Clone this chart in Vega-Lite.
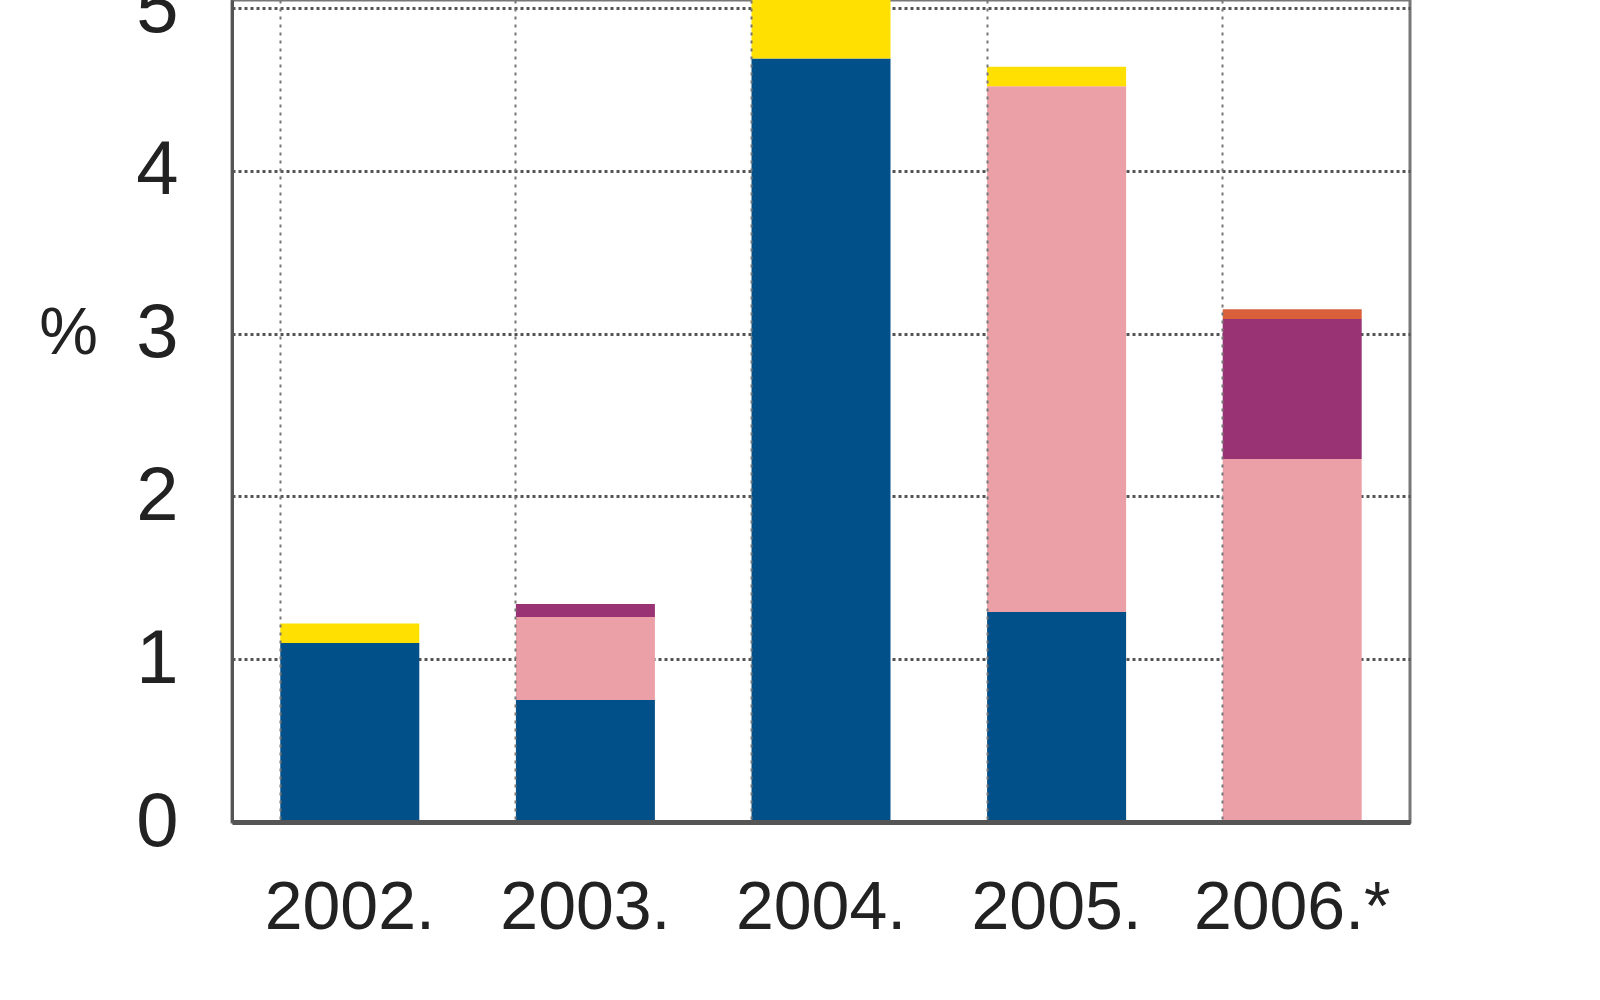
{
  "$schema": "https://vega.github.io/schema/vega-lite/v6.json",
  "autosize": {"type": "none"},
  "width": 1178,
  "height": 822,
  "padding": {"left": 232, "top": 0, "right": 190, "bottom": 178},
  "background": "white",
  "data": {
    "values": [
      {"year": "2002.", "series": "A", "order": 1, "value": 1.10},
      {"year": "2002.", "series": "D", "order": 4, "value": 0.12},
      {"year": "2003.", "series": "A", "order": 1, "value": 0.75},
      {"year": "2003.", "series": "B", "order": 2, "value": 0.51},
      {"year": "2003.", "series": "C", "order": 3, "value": 0.08},
      {"year": "2004.", "series": "A", "order": 1, "value": 4.69},
      {"year": "2004.", "series": "D", "order": 4, "value": 0.9},
      {"year": "2005.", "series": "A", "order": 1, "value": 1.29},
      {"year": "2005.", "series": "B", "order": 2, "value": 3.23},
      {"year": "2005.", "series": "D", "order": 4, "value": 0.12},
      {"year": "2006.*", "series": "B", "order": 2, "value": 2.23},
      {"year": "2006.*", "series": "C", "order": 3, "value": 0.86},
      {"year": "2006.*", "series": "E", "order": 5, "value": 0.06}
    ]
  },
  "mark": {"type": "bar", "clip": true},
  "encoding": {
    "x": {
      "field": "year",
      "type": "nominal",
      "sort": null,
      "scale": {"paddingInner": 0.41, "paddingOuter": 0.205},
      "axis": {
        "title": null,
        "labelAngle": 0,
        "labelFontSize": 68,
        "labelLimit": 0,
        "labelPadding": 52,
        "labelColor": "#222",
        "ticks": false,
        "domainColor": "#555",
        "domainWidth": 5,
        "bandPosition": 0,
        "grid": true,
        "gridColor": "#777",
        "gridWidth": 2,
        "gridDash": [3, 5],
        "zindex": 1
      }
    },
    "y": {
      "field": "value",
      "type": "quantitative",
      "stack": "zero",
      "scale": {"domain": [0, 5.05], "nice": false, "zero": true},
      "axis": {
        "values": [0, 1, 2, 3, 4, 5],
        "title": "%",
        "titleAngle": 0,
        "titleX": -164,
        "titleY": 333,
        "titleAlign": "center",
        "titleBaseline": "middle",
        "titleFontSize": 66,
        "titleFontWeight": "normal",
        "titleColor": "#222",
        "labelFontSize": 76,
        "labelPadding": 54,
        "labelColor": "#222",
        "ticks": false,
        "domainColor": "#555",
        "domainWidth": 3,
        "grid": true,
        "gridColor": "#555",
        "gridWidth": 3,
        "gridDash": [3, 3]
      }
    },
    "color": {
      "field": "series",
      "type": "nominal",
      "scale": {
        "domain": ["A", "B", "C", "D", "E"],
        "range": ["#02508a", "#eba0a8", "#993373", "#ffe000", "#d9603b"]
      },
      "legend": null
    },
    "order": {"field": "order", "type": "quantitative"}
  },
  "config": {
    "font": "Liberation Sans",
    "view": {"stroke": "#777", "strokeWidth": 3}
  }
}
